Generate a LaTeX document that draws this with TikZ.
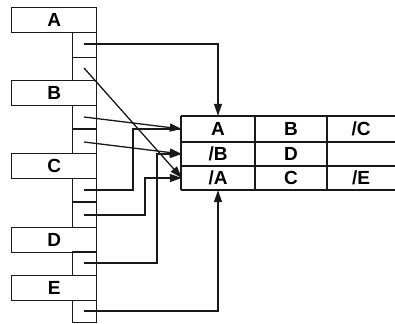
\documentclass[tikz,border=0pt]{standalone}
\usepackage{fontspec}
\setmainfont{Liberation Sans}
\usetikzlibrary{arrows.meta}
\begin{document}
\begin{tikzpicture}[x=1pt,y=-1pt,
  ln/.style={line width=1.3pt, draw=black!90},
  lbox/.style={ln, rectangle, minimum width=85pt, minimum height=25pt, inner sep=0pt, anchor=north west, font=\fontsize{19}{19}\selectfont\bfseries},
  cellbox/.style={ln, rectangle, minimum width=24pt, inner sep=0pt, anchor=north west},
  tcell/.style={rectangle, minimum width=72pt, minimum height=24pt, inner sep=0pt, font=\fontsize{19}{19}\selectfont\bfseries},
  arr/.style={ln, -{Triangle[length=12pt,width=8pt]}},
  con/.style={ln}
]
\useasboundingbox (0,0) rectangle (395,323);
% left boxes
\node[lbox] (bA) at (11,7) {A};
\node[lbox] (bB) at (11,80) {B};
\node[lbox] (bC) at (11,153) {C};
\node[lbox] (bD) at (11,227) {D};
\node[lbox] (bE) at (11,275) {E};
% column cells
\node[cellbox, minimum height=25pt] (a1) at (72,32) {};
\node[cellbox, minimum height=23pt] (a2) at (72,57) {};
\node[cellbox, minimum height=24pt] (b1) at (72,105) {};
\node[cellbox, minimum height=24pt] (b2) at (72,129) {};
\node[cellbox, minimum height=24pt] (c1) at (72,178) {};
\node[cellbox, minimum height=25pt] (c2) at (72,202) {};
\node[cellbox, minimum height=24pt] (d1) at (72,251) {};
\node[cellbox, minimum height=22pt] (e1) at (72,300) {};
\draw[line width=2pt, draw=black!90] (b2.north west) -- (b2.north east);
\draw[line width=2pt, draw=black!90] (c2.north west) -- (c2.north east);
% start points
\coordinate (sa1) at (84,44);
\coordinate (sa2) at (84,68);
\coordinate (sb1) at (84,117);
\coordinate (sb2) at (84,142);
\coordinate (sc1) at (84,190);
\coordinate (sc2) at (84,215);
\coordinate (sd1) at (84,263);
\coordinate (se1) at (84,311);
% table
\draw[ln] (181,116) -- (395,116);
\draw[line width=2.2pt, draw=black!90] (181,142) -- (395,142);
\draw[ln] (181,166) -- (395,166);
\draw[ln] (181,190) -- (395,190);
\draw[ln] (181,116) -- (181,190);
\draw[ln] (255,116) -- (255,190);
\draw[ln] (327,116) -- (327,190);
\node[tcell, minimum height=26pt] (t11) at (218,129) {A};
\node[tcell, minimum height=26pt] (t12) at (291,129) {B};
\node[tcell, minimum height=26pt] (t13) at (361,129) {/C};
\node[tcell] (t21) at (218,154) {/B};
\node[tcell] (t22) at (291,154) {D};
\node[tcell] (t31) at (218,178) {/A};
\node[tcell] (t32) at (291,178) {C};
\node[tcell] (t33) at (361,178) {/E};
% connectors
\draw[arr] (sa1) -| (t11.north);
\draw[arr] (sa2) -- (t31.west);
\draw[arr] (sb1) -- (t11.west);
\draw[arr] (sb2) -- (t21.west);
\draw[con] (sc1) -| (133,129) -- (t11.west);
\draw[arr] (sc2) -| (145,178) -- (t31.west);
\draw[arr] (sd1) -| (157,154) -- (t21.west);
\draw[arr] (se1) -| (t31.south);
\end{tikzpicture}
\end{document}
